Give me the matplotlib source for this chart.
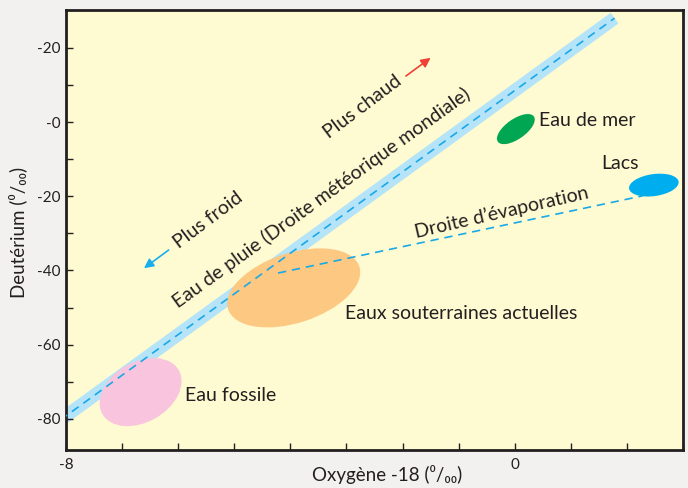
import matplotlib.pyplot as plt
from matplotlib.patches import Ellipse
from matplotlib.transforms import ScaledTranslation

plt.rcParams['font.family'] = ['Lato', 'DejaVu Sans']

# droite météorique mondiale (extrémités)
mwl_x = [-8.1, 1.78]
mwl_y = [-80.3, 28.0]

# droite d'évaporation
evap_x = [-4.22, 2.28]
evap_y = [-40.7, -19.9]

# zones (centre x, centre y)
zones = ['Eau fossile', 'Eaux souterraines actuelles', 'Eau de mer', 'Lacs']
zone_x = [-6.67, -3.94, 0.02, 2.48]
zone_y = [-72.8, -44.7, -1.9, -17.0]

# graduations
x_ticks = list(range(-8, 4))
x_labels = ['-8', '', '', '', '', '', '', '', '0', '', '', '']
y_ticks = [20, 10, 0, -10, -20, -30, -40, -50, -60, -70, -80]
y_labels = ['-20', '', '-0', '', '-20', '', '-40', '', '-60', '', '-80']

texte = '#231f20'
bleu_clair = '#b5e3f8'
bleu = '#19a9e6'

fig = plt.figure(figsize=(6.88, 4.88), dpi=100, facecolor='#f2f1f0')
ax = fig.add_axes([66/688, 1-450/488, (683-66)/688, (450-10)/488])
ax.set_facecolor('#fefbd2')
ax.set_xlim(-8, 3)
ax.set_ylim(-88.4, 30.2)

# bande bleue + ellipses + pointillés
ax.plot(mwl_x, mwl_y, color=bleu_clair, lw=9.5, solid_capstyle='butt', zorder=1)

# taille des ellipses en pouces (grand axe, petit axe, angle)
styles = [(0.88, 0.60, 30, '#f9c4dd'), (1.38, 0.70, 18, '#fcc882'),
          (0.44, 0.20, 35, '#00a651'), (0.50, 0.22, 8, '#00adee')]
for (w, h, a, c), cx, cy in zip(styles, zone_x, zone_y):
    tr = fig.dpi_scale_trans + ScaledTranslation(cx, cy, ax.transData)
    ax.add_patch(Ellipse((0, 0), w, h, angle=a, color=c, lw=0, transform=tr, zorder=2))

ax.plot(mwl_x, mwl_y, color=bleu, lw=1.2, dashes=(5, 3.5), zorder=3)
ax.plot(evap_x, evap_y, color=bleu, lw=1.2, dashes=(5, 3.5), zorder=3)

# flèches
ax.annotate('', xy=(-6.61, -39.4), xytext=(-6.17, -34.5),
            arrowprops=dict(arrowstyle='-|>', color='#1aaeed', lw=1.2,
                            mutation_scale=14, shrinkA=0, shrinkB=0))
ax.annotate('', xy=(-1.50, 17.3), xytext=(-1.94, 12.4),
            arrowprops=dict(arrowstyle='-|>', color='#ef4136', lw=1.2,
                            mutation_scale=14, shrinkA=0, shrinkB=0))

fs = 14
kw = dict(color=texte, fontsize=fs, rotation_mode='anchor', ha='center', va='center')
ax.text(-5.47, -26.4, 'Plus froid', rotation=37, **kw)
ax.text(-2.71, 4.0, 'Plus chaud', rotation=37, **kw)
ax.text(-3.44, -20.5, 'Eau de pluie (Droite météorique mondiale)', rotation=35.8, **kw)
ax.text(-0.23, -24.3, 'Droite d’évaporation', rotation=13, **kw)
ax.text(1.87, -11.1, 'Lacs', **kw)
ax.text(0.43, 0.3, 'Eau de mer', color=texte, fontsize=fs, ha='left', va='center')
ax.text(-3.03, -51.5, 'Eaux souterraines actuelles', color=texte, fontsize=fs, ha='left', va='center')
ax.text(-5.88, -73.6, 'Eau fossile', color=texte, fontsize=fs, ha='left', va='center')

ax.set_xticks(x_ticks)
ax.set_xticklabels(x_labels)
ax.set_yticks(y_ticks)
ax.set_yticklabels(y_labels)
ax.tick_params(direction='in', length=5, width=1, color=texte, labelcolor=texte,
               labelsize=11, pad=4)
ax.tick_params(axis='x', pad=6)
for s in ax.spines.values():
    s.set_linewidth(2)
    s.set_color(texte)

fig.text(387/688, 1-474/488, 'Oxygène -18 (⁰/₀₀)', color=texte, fontsize=13.5,
         ha='center', va='center')
fig.text(18/688, 1-232/488, 'Deutérium (⁰/₀₀)', color=texte, fontsize=13.5,
         ha='center', va='center', rotation=90)

fig.savefig('out.png', dpi=100, facecolor=fig.get_facecolor())
